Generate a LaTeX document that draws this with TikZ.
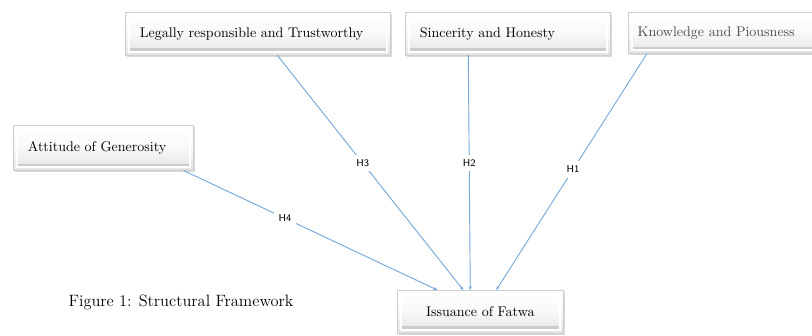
\documentclass[tikz,border=0pt]{standalone}
\usepackage{xcolor}
\usepackage{tikz}
\usetikzlibrary{positioning,arrows.meta,calc,shadows}
\definecolor{linkcolor}{RGB}{118,168,218}
\definecolor{boxedge}{RGB}{205,205,205}
\tikzset{
    factor box/.style={rectangle, anchor=north west, draw=boxedge, inner xsep=11pt, inner ysep=0pt,
        minimum height=32pt, align=left, font=\fontsize{10.5}{12}\selectfont,
        top color=white, bottom color=gray!22, middle color=gray!5,
        drop shadow={opacity=0.3, shadow xshift=1.2pt, shadow yshift=-1.5pt},
        path picture={
            \draw[white, line width=1.5pt]
                ([shift={(2.5pt,-2.5pt)}]path picture bounding box.north west) rectangle
                ([shift={(-2.5pt,2.5pt)}]path picture bounding box.south east);
            \fill[gray!40]
                ([shift={(3.3pt,3.3pt)}]path picture bounding box.south west) rectangle
                ([shift={(-3.3pt,5pt)}]path picture bounding box.south east);
        }},
    outcome box/.style={factor box, align=center},
    link/.style={-{Stealth[length=3pt,width=2.5pt]}, line width=0.7pt, linkcolor},
    hyp/.style={fill=white, text=black, inner sep=3.5pt, font=\sffamily\fontsize{7.5}{9}\selectfont},
    caption/.style={font=\fontsize{12.3}{14}\selectfont}
}

\begin{document}
\begin{tikzpicture}[x=0.75pt, y=-0.75pt]
    \useasboundingbox (0,0) rectangle (812,335);
    \clip (0,0) rectangle (812,335);

    % Factor boxes
    \node[factor box, text width=176.75pt] (legal) at (125,12) {Legally responsible and Trustworthy};
    \node[factor box, text width=131.75pt] (sincere) at (405,12) {Sincerity and Honesty};
    \node[factor box, inner xsep=7pt, text width=136pt, minimum height=30.75pt, text=black!70] (pious) at (628,12) {Knowledge and Piousness};
    \node[factor box, text width=113pt, minimum height=33.75pt] (generous) at (13,125) {Attitude of Generosity};

    % Outcome
    \node[outcome box, text width=102.5pt] (fatwa) at (397,290) {Issuance of Fatwa};

    % Hypotheses
    \draw[link] ([xshift=14.6pt]legal.south) -- node[hyp, pos=0.46] {H3} ([xshift=-12.75pt]fatwa.north);
    \draw[link] ([xshift=-29.6pt]sincere.south) -- node[hyp, pos=0.46] {H2} ([xshift=-7.5pt]fatwa.north);
    \draw[link] ([xshift=14.25pt]pious.south west) -- node[hyp, pos=0.49] {H1} ([xshift=12pt]fatwa.north);
    \draw[link] ([xshift=-7.5pt]generous.south east) -- node[hyp, pos=0.40] {H4} ([xshift=-32.25pt]fatwa.north);

    % Caption
    \node[caption] (cap) at (181,302) {Figure 1: Structural Framework};
\end{tikzpicture}
\end{document}
